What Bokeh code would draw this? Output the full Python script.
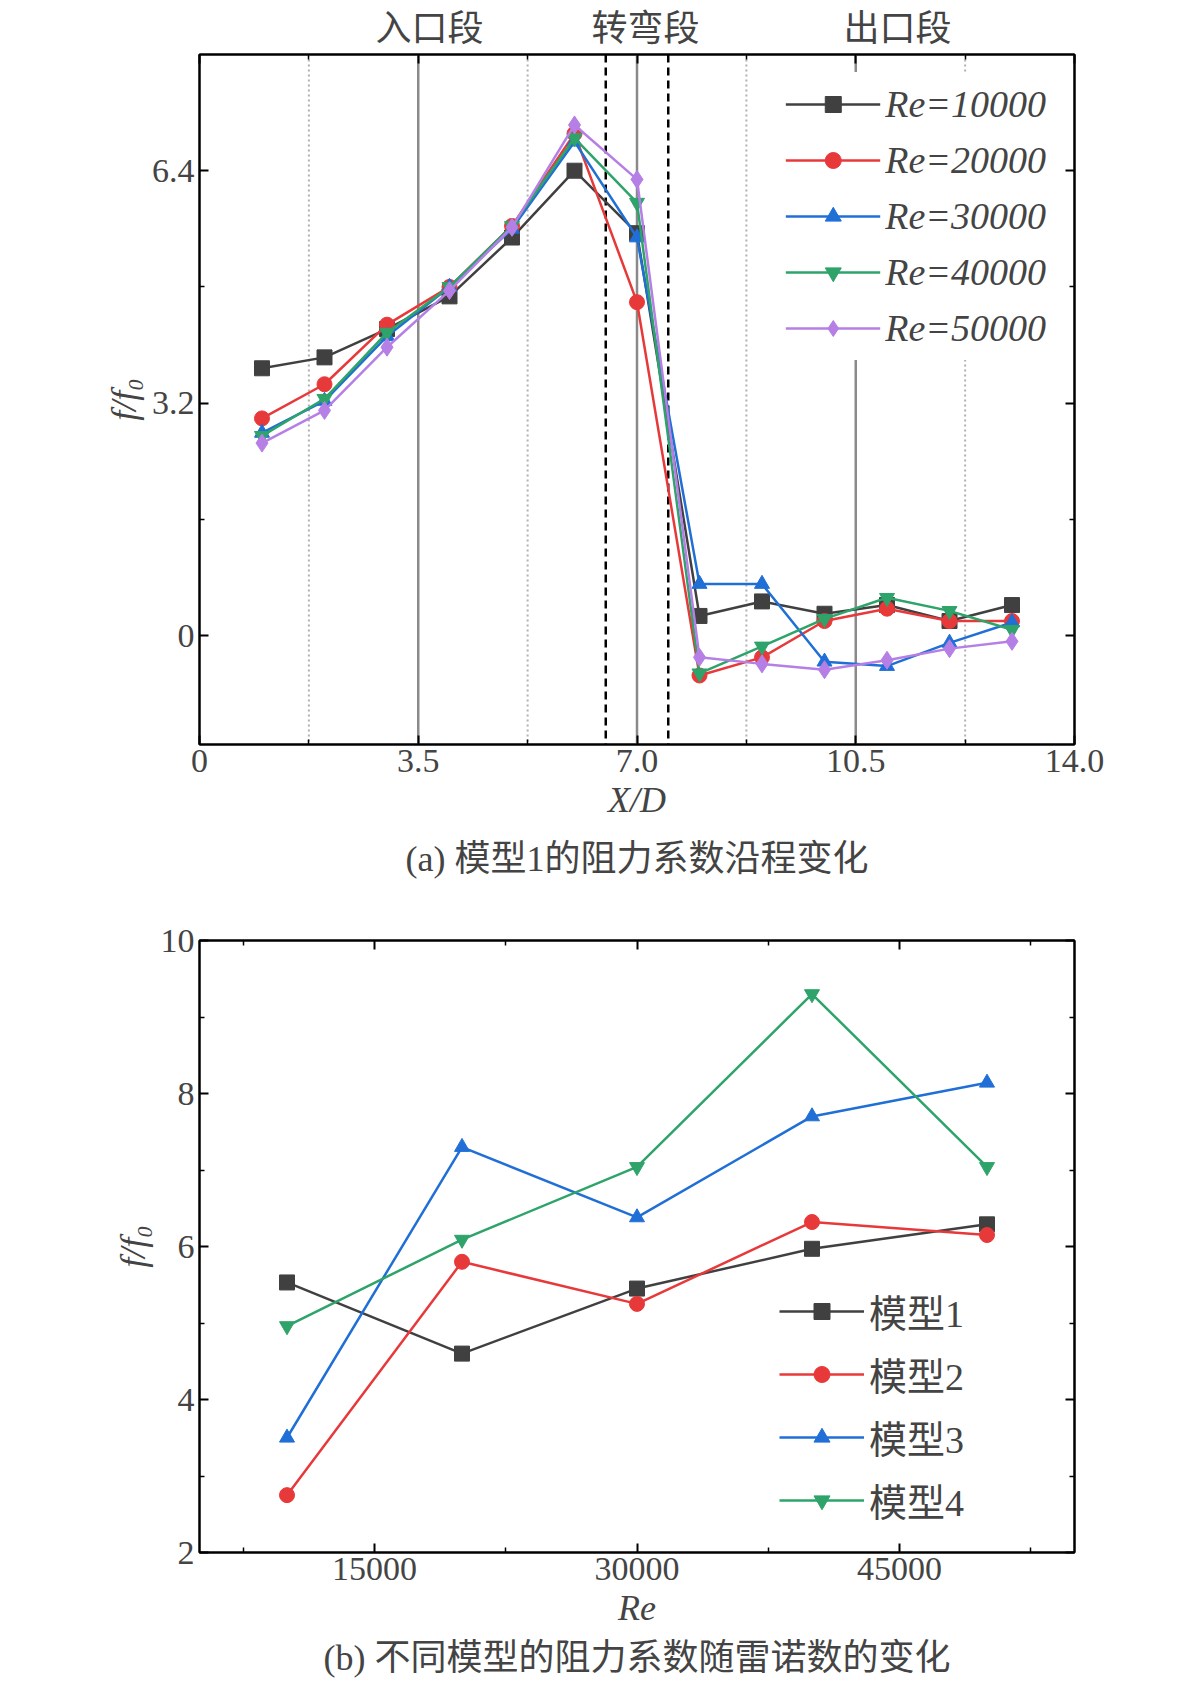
from bokeh.plotting import figure
from bokeh.models import LinearAxis, Range1d, FixedTicker, Legend, LegendItem, Span, Title
from bokeh.layouts import column
from bokeh.embed import file_html
from bokeh.resources import INLINE

FONT = "Liberation Serif, Noto Sans CJK SC"

x_pos = [1, 2, 3, 4, 5, 6, 7, 8, 9, 10, 11, 12, 13]
re_labels = ["Re=10000", "Re=20000", "Re=30000", "Re=40000", "Re=50000"]
re10000 = [3.68, 3.83, 4.22, 4.67, 5.48, 6.40, 5.54, 0.27, 0.47, 0.30, 0.42, 0.20, 0.42]
re20000 = [2.99, 3.46, 4.28, 4.80, 5.64, 6.91, 4.59, -0.55, -0.30, 0.20, 0.37, 0.20, 0.20]
re30000 = [2.79, 3.23, 4.12, 4.80, 5.60, 6.80, 5.48, 0.71, 0.71, -0.36, -0.42, -0.10, 0.18]
re40000 = [2.75, 3.26, 4.17, 4.80, 5.64, 6.85, 5.96, -0.52, -0.15, 0.23, 0.52, 0.34, 0.08]
re50000 = [2.65, 3.10, 3.97, 4.75, 5.62, 7.03, 6.28, -0.30, -0.39, -0.47, -0.34, -0.18, -0.08]
section_names = ["入口段", "转弯段", "出口段"]

re_vals = [10000, 20000, 30000, 40000, 50000]
model_labels = ["模型1", "模型2", "模型3", "模型4"]
model1 = [5.53, 4.60, 5.45, 5.97, 6.29]
model2 = [2.75, 5.80, 5.25, 6.32, 6.15]
model3 = [3.50, 7.30, 6.38, 7.70, 8.14]
model4 = [4.96, 6.09, 7.04, 9.30, 7.04]

colors = ["#404040", "#e8393a", "#1f6fd6", "#2ea36a", "#b57fe6"]
markers = ["square", "circle", "triangle", "inverted_triangle", "diamond"]


def style(p, xticks, xlabels, yticks, ylabels):
    p.outline_line_color = "black"
    p.outline_line_width = 2
    p.grid.visible = False
    for ax in [p.xaxis[0], p.yaxis[0]]:
        ax.major_label_text_font = FONT
        ax.major_label_text_font_size = "34px"
        ax.axis_label_text_font = FONT
        ax.axis_label_text_font_size = "36px"
        ax.axis_label_text_font_style = "italic"
        ax.major_tick_in = 9
        ax.major_tick_out = 0
        ax.minor_tick_in = 5
        ax.minor_tick_out = 0
        ax.axis_line_width = 2
        ax.major_tick_line_width = 2
        ax.minor_tick_line_width = 1.5
    p.xaxis[0].ticker = FixedTicker(ticks=xticks[0], minor_ticks=xticks[1])
    p.xaxis[0].major_label_overrides = xlabels
    p.yaxis[0].ticker = FixedTicker(ticks=yticks[0], minor_ticks=yticks[1])
    p.yaxis[0].major_label_overrides = ylabels
    for loc, t in [("above", xticks), ("right", yticks)]:
        a = LinearAxis(ticker=FixedTicker(ticks=t[0], minor_ticks=t[1]),
                       major_label_text_font_size="0px", major_tick_in=9, major_tick_out=0,
                       minor_tick_in=5, minor_tick_out=0, axis_line_width=2,
                       major_tick_line_width=2, minor_tick_line_width=1.5)
        p.add_layout(a, loc)
    p.yaxis[0].major_label_orientation = 0


# ---------- figure (a)
p1 = figure(width=1165, height=892, output_backend="svg", toolbar_location=None,
            x_range=Range1d(0, 14), y_range=Range1d(-1.5, 8.0),
            min_border_left=199, min_border_right=91, min_border_top=4, min_border_bottom=120)
p1.xaxis.axis_label = "X/D"
p1.yaxis.axis_label = "f/f₀"
style(p1, ([0, 3.5, 7, 10.5, 14], [1.75, 5.25, 8.75, 12.25]),
      {0: "0", 3.5: "3.5", 7: "7.0", 10.5: "10.5", 14: "14.0"},
      ([0, 3.2, 6.4], [-1.6, 1.6, 4.8]), {0: "0", 3.2: "3.2", 6.4: "6.4"})

for xv in [1.75, 5.25, 8.75, 12.25]:
    p1.add_layout(Span(location=xv, dimension="height", line_color="#b0b0b0", line_width=2, line_dash="2 3", level="underlay"))
for xv in [3.5, 7.0, 10.5]:
    p1.add_layout(Span(location=xv, dimension="height", line_color="#8a8a8a", line_width=2.5, level="underlay"))
for xv in [6.5, 7.5]:
    p1.add_layout(Span(location=xv, dimension="height", line_color="black", line_width=2.5, line_dash="8 5", level="underlay"))

items = []
for i, ys in enumerate([re10000, re20000, re30000, re40000, re50000]):
    l = p1.line(x_pos, ys, line_color=colors[i], line_width=2.5)
    s = p1.scatter(x_pos, ys, marker=markers[i], size=15 if markers[i] != "diamond" else 18,
                   fill_color=colors[i], line_color=colors[i])
    items.append(LegendItem(label=re_labels[i], renderers=[l, s]))
leg1 = Legend(items=items, location="top_right", label_text_font=FONT, label_text_font_size="38px",
              label_text_font_style="italic",
              glyph_width=95, glyph_height=40, label_height=44, spacing=12, border_line_alpha=0,
              background_fill_alpha=1, margin=18, padding=10)
p1.add_layout(leg1)

sep = "\u3000" * 3
top_text = section_names[0] + sep + section_names[1] + "\u3000" * 4 + section_names[2]
p1.add_layout(Title(text=top_text, text_font=FONT, text_font_size="36px", text_font_style="normal",
                    align="left", offset=176, standoff=12), "above")
p1.add_layout(Title(text="(a) 模型1的阻力系数沿程变化", text_font=FONT, text_font_size="36px",
                    text_font_style="normal", align="center", standoff=28), "below")

# ---------- figure (b)
p2 = figure(width=1165, height=790, output_backend="svg", toolbar_location=None,
            x_range=Range1d(5000, 55000), y_range=Range1d(2, 10),
            min_border_left=199, min_border_right=91, min_border_top=48, min_border_bottom=100)
p2.xaxis.axis_label = "Re"
p2.yaxis.axis_label = "f/f₀"
style(p2, ([15000, 30000, 45000], [7500, 22500, 37500, 52500]),
      {15000: "15000", 30000: "30000", 45000: "45000"},
      ([2, 4, 6, 8, 10], [3, 5, 7, 9]), {})

items2 = []
for i, ys in enumerate([model1, model2, model3, model4]):
    l = p2.line(re_vals, ys, line_color=colors[i], line_width=2.5)
    s = p2.scatter(re_vals, ys, marker=markers[i], size=15, fill_color=colors[i], line_color=colors[i])
    items2.append(LegendItem(label=model_labels[i], renderers=[l, s]))
leg2 = Legend(items=items2, label_text_font=FONT, label_text_font_size="38px",
              glyph_width=85, glyph_height=40, label_height=44, spacing=8, border_line_alpha=0,
              background_fill_alpha=0, margin=0, padding=10)
leg2.location = (570, 15)
p2.add_layout(leg2)
p2.add_layout(Title(text="(b) 不同模型的阻力系数随雷诺数的变化", text_font=FONT, text_font_size="36px",
                    text_font_style="normal", align="center", standoff=10), "below")

lay = column(p1, p2, spacing=0)
open("out.html", "w").write(file_html(lay, INLINE))
